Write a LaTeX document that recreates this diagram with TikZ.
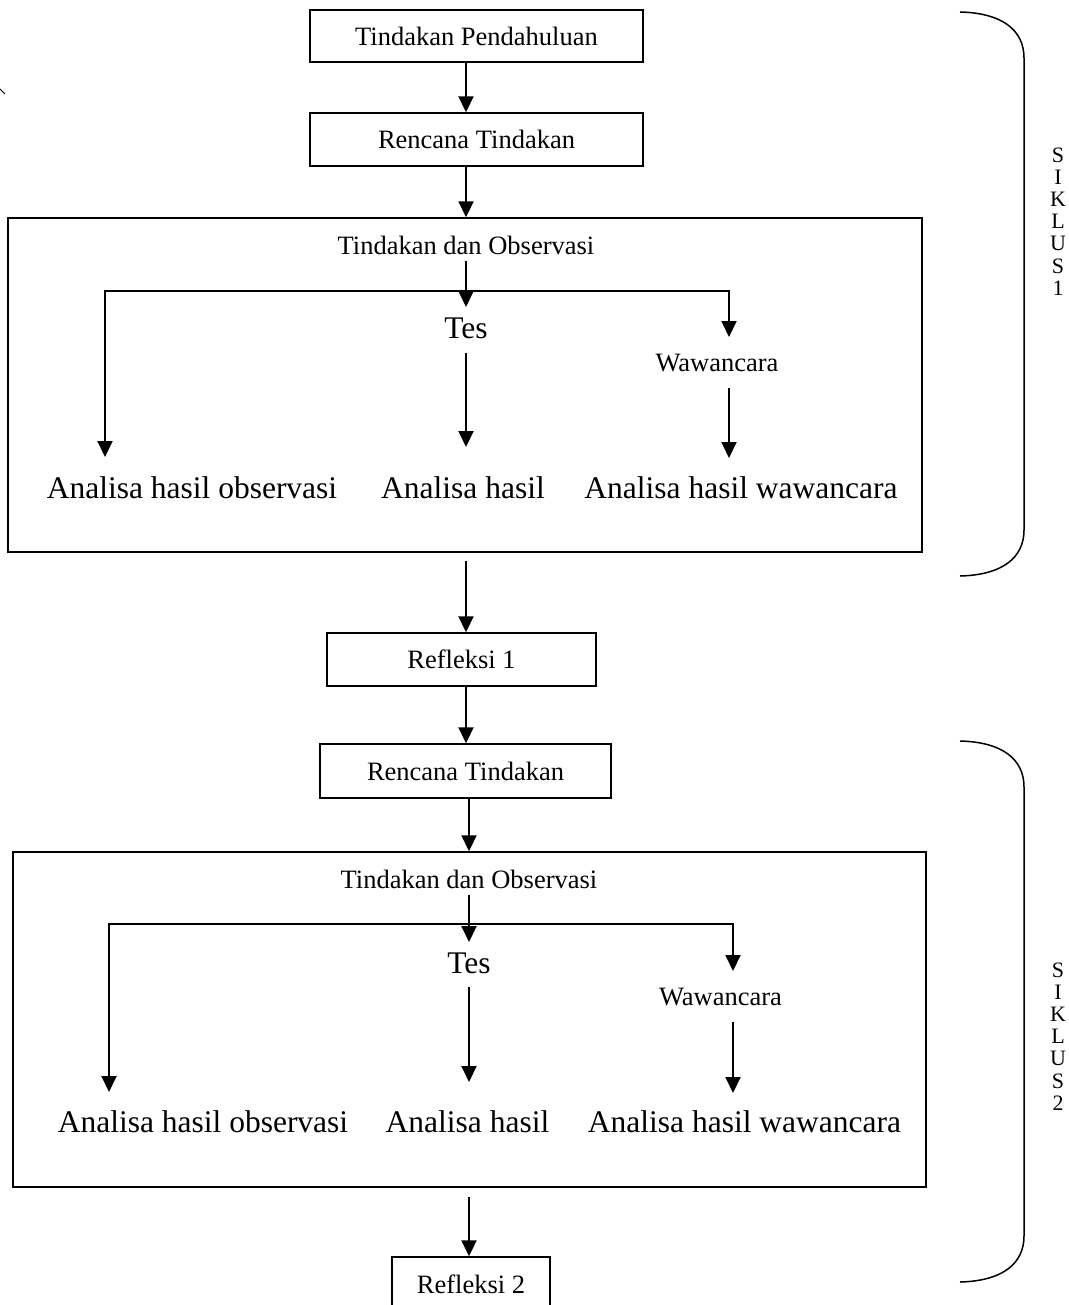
\documentclass[tikz,border=0pt]{standalone}
\usepackage{fontspec}
\setmainfont{Liberation Serif}
\usetikzlibrary{arrows.meta,calc}
\begin{document}
\begin{tikzpicture}[x=1pt,y=-1pt,
  box/.style={draw, line width=1.4pt, inner sep=0pt, anchor=center},
  small/.style={font=\fontsize{26.5}{30}\selectfont, inner sep=0pt},
  large/.style={font=\fontsize{31.5}{36}\selectfont, inner sep=0pt},
  sik/.style={font=\fontsize{22}{22.2}\selectfont, align=center, inner sep=0pt},
  arr/.style={-{Triangle[length=16pt,width=15pt]}, line width=1.9pt},
  brace/.style={line width=1.5pt}]
\useasboundingbox (0,0) rectangle (1068,1305);
\fill[white] (0,0) rectangle (1068,1305);

% ---------- cycle 1 ----------
\node[box, small, minimum width=333pt, minimum height=52pt] (tp) at (476.5,36) {Tindakan Pendahuluan};
\node[box, small, minimum width=333pt, minimum height=53pt] (rt1) at (476.5,139.5) {Rencana Tindakan};
\node[box, minimum width=914pt, minimum height=334pt] (big1) at (465,385) {};
\node[small] (tdo1) at (466,245) {Tindakan dan Observasi};
\node[large] (tes1) at (466,328) {Tes};
\node[small] (waw1) at (717,363) {Wawancara};
\node[large] (aho1) at (192,488) {Analisa hasil observasi};
\node[large] (ah1) at (463,488) {Analisa hasil};
\node[large] (ahw1) at (741,488) {Analisa hasil wawancara};
\node[box, small, minimum width=269pt, minimum height=53pt] (ref1) at (461.5,659.5) {Refleksi 1};

\draw[arr] (tp.south -| tdo1) -- (rt1.north -| tdo1);
\draw[arr] (rt1.south -| tdo1) -- (big1.north -| tdo1);
\draw[arr] ($(tdo1)+(0,16)$) -- ($(tes1)+(0,-21)$);
\draw[arr] ($(tdo1)+(0,46)$) -| ($(aho1)+(-87,-31)$);
\draw[arr] ($(tdo1)+(0,46)$) -| ($(waw1)+(12,-26)$);
\draw[arr] ($(tes1)+(0,25)$) -- ($(tes1 |- ah1)+(0,-41)$);
\draw[arr] ($(waw1)+(12,25)$) -- ($(waw1 |- ahw1)+(12,-30)$);
\draw[arr] ($(big1.south -| tdo1)+(0,8)$) -- (ref1.north -| tdo1);

% ---------- cycle 2 ----------
\node[box, small, minimum width=291pt, minimum height=54pt] (rt2) at (465.5,771) {Rencana Tindakan};
\node[box, minimum width=913pt, minimum height=335pt] (big2) at (469.5,1019.5) {};
\node[small] (tdo2) at (469,879) {Tindakan dan Observasi};
\node[large] (tes2) at (469,963) {Tes};
\node[small] (waw2) at (720.5,997) {Wawancara};
\node[large] (aho2) at (203,1122) {Analisa hasil observasi};
\node[large] (ah2) at (467.5,1122) {Analisa hasil};
\node[large] (ahw2) at (744.5,1122) {Analisa hasil wawancara};
\node[box, small, minimum width=158pt, minimum height=54pt] (ref2) at (471,1284) {Refleksi 2};

\draw[arr] (ref1.south -| tdo1) -- (rt2.north -| tdo1);
\draw[arr] (rt2.south -| tdo2) -- (big2.north -| tdo2);
\draw[arr] ($(tdo2)+(0,16)$) -- ($(tes2)+(0,-21)$);
\draw[arr] ($(tdo2)+(0,45)$) -| ($(aho2)+(-94,-30)$);
\draw[arr] ($(tdo2)+(0,45)$) -| ($(waw2)+(12.5,-26)$);
\draw[arr] ($(tes2)+(0,24)$) -- ($(tes2 |- ah2)+(0,-40)$);
\draw[arr] ($(waw2)+(12.5,25)$) -- ($(waw2 |- ahw2)+(12.5,-29)$);
\draw[arr] ($(big2.south -| tdo2)+(0,9)$) -- (ref2.north -| tdo2);

% ---------- braces and labels ----------
\draw[brace] (960,12) .. controls (1002,13) and (1024,30) .. (1024,58) -- (1024,530) .. controls (1024,558) and (1002,575) .. (960,576);
\node[sik] (sik1) at (1058,221.5) {S\\I\\K\\L\\U\\S\\1};
\draw[brace] (960,741) .. controls (1002,742) and (1024,759) .. (1024,787) -- (1024,1236) .. controls (1024,1264) and (1002,1281) .. (960,1282);
\node[sik] (sik2) at (1058,1036.5) {S\\I\\K\\L\\U\\S\\2};

% small stray mark at top left
\draw[line width=1pt] (0,89) -- (5,94);
\end{tikzpicture}
\end{document}
